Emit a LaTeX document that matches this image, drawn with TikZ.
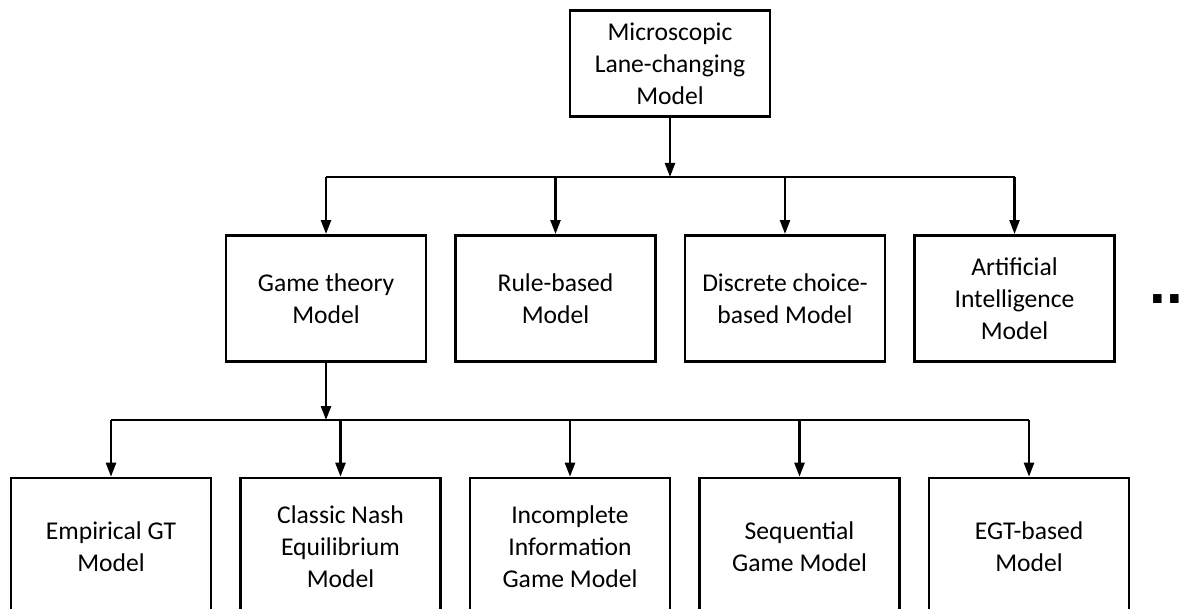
\documentclass[tikz,border=0pt]{standalone}
\usepackage{fontspec}
\setmainfont{Carlito}
\newfontfamily\dotfont{Liberation Sans}
\usetikzlibrary{arrows.meta,positioning}

\begin{document}
\begin{tikzpicture}[node distance=13.45pt,
    box/.style={draw,line width=1.3pt,minimum width=100pt,minimum height=63.2pt,inner sep=2pt,align=center,font=\fontsize{12.8}{16}\selectfont},
    leaf/.style={box,minimum height=69pt},
    link/.style={line width=1.2pt,-{Triangle[length=7pt,width=5pt]}},
    bus/.style={line width=1.2pt}]
  \useasboundingbox (0,0) rectangle (593pt,-304.5pt);
  \clip (0,0) rectangle (593pt,-304.5pt);
  \node[box,minimum height=53.2pt] (micro) at (335pt,-31.75pt) {Microscopic\\Lane-changing\\Model};
  \node[box] (game) at (163pt,-149.25pt) {Game theory\\Model};
  \node[box,right=of game] (rule) {Rule-based\\Model};
  \node[box,right=of rule] (discrete) {Discrete choice-\\based Model};
  \node[box,right=of discrete] (ai) {Artificial\\Intelligence\\Model};
  \node[anchor=base west,inner sep=0pt,font=\dotfont\bfseries\fontsize{30}{30}\selectfont] (more) at (574.5pt,-151.5pt) {..};
  \node[leaf] (empirical) at (55.5pt,-273.5pt) {Empirical GT\\Model};
  \node[leaf,right=of empirical] (nash) {Classic Nash\\Equilibrium\\Model};
  \node[leaf,right=of nash] (incomplete) {Incomplete\\Information\\Game Model};
  \node[leaf,right=of incomplete] (sequential) {Sequential\\Game Model};
  \node[leaf,right=of sequential] (egt) {EGT-based\\Model};
  \coordinate (top bus) at (0,-88.5pt);
  \coordinate (low bus) at (0,-210pt);
  \draw[link] (micro.south) -- (micro.south |- top bus);
  \draw[bus] (game.north |- top bus) -- (ai.north |- top bus);
  \foreach \n in {game,rule,discrete,ai}
    \draw[link] (\n.north |- top bus) -- (\n.north);
  \draw[link] (game.south) -- (game.south |- low bus);
  \draw[bus] (empirical.north |- low bus) -- (egt.north |- low bus);
  \foreach \n in {empirical,nash,incomplete,sequential,egt}
    \draw[link] (\n.north |- low bus) -- (\n.north);
\end{tikzpicture}
\end{document}
